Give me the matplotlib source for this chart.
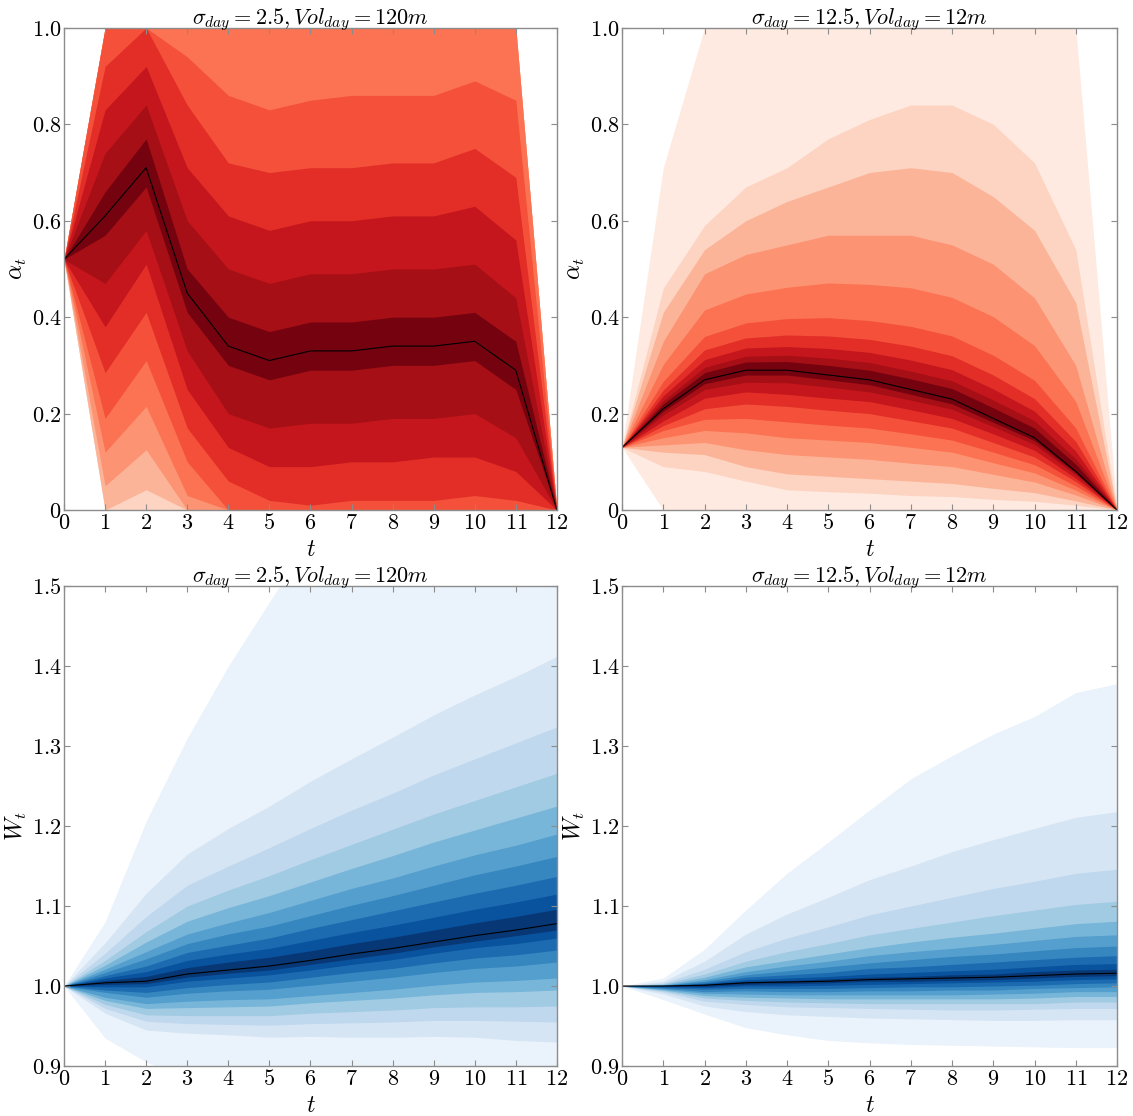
import numpy as np
import matplotlib
matplotlib.use('Agg')
import matplotlib.pyplot as plt

plt.rcParams['mathtext.fontset'] = 'cm'
plt.rcParams['font.size'] = 15

t = np.arange(13)
xticklabels = [str(i) for i in range(13)]
alpha_ticks = [0, 0.2, 0.4, 0.6, 0.8, 1.0]
alpha_ticklabels = ['0', '0.2', '0.4', '0.6', '0.8', '1.0']
w_ticks = [0.9, 1.0, 1.1, 1.2, 1.3, 1.4, 1.5]
w_ticklabels = ['0.9', '1.0', '1.1', '1.2', '1.3', '1.4', '1.5']

titles = [r'$\sigma_{day}=2.5, Vol_{day}=120m$', r'$\sigma_{day}=12.5, Vol_{day}=12m$']

# --- alpha_t, sigma 2.5 (bands listed from the median outwards) ---
tl_median = [.52, .61, .71, .45, .34, .31, .33, .33, .34, .34, .35, .29, 0]
tl_upper = [
    [.52, .66, .77, .50, .40, .37, .39, .39, .40, .40, .41, .35, 0],
    [.52, .74, .84, .60, .50, .47, .49, .49, .50, .50, .51, .44, 0],
    [.52, .83, .92, .71, .61, .58, .60, .60, .61, .61, .63, .56, 0],
    [.52, .92, 1.0, .84, .72, .70, .71, .71, .72, .72, .75, .69, 0],
    [.52, 1.0, 1.0, .94, .86, .83, .85, .86, .86, .86, .89, .85, 0],
    [.52, 1.0, 1.0, 1.0, 1.0, 1.0, 1.0, 1.0, 1.0, 1.0, 1.0, 1.0, 0],
    [.52, 1.0, 1.0, 1.0, 1.0, 1.0, 1.0, 1.0, 1.0, 1.0, 1.0, 1.0, 0],
    [.52, 1.0, 1.0, 1.0, 1.0, 1.0, 1.0, 1.0, 1.0, 1.0, 1.0, 1.0, 0],
    [.52, 1.0, 1.0, 1.0, 1.0, 1.0, 1.0, 1.0, 1.0, 1.0, 1.0, 1.0, 0],
    [.52, 1.0, 1.0, 1.0, 1.0, 1.0, 1.0, 1.0, 1.0, 1.0, 1.0, 1.0, 0],
]
tl_lower = [
    [.52, .57, .67, .41, .30, .27, .29, .29, .30, .30, .31, .25, 0],
    [.52, .47, .58, .33, .20, .17, .18, .18, .19, .19, .20, .15, 0],
    [.52, .38, .51, .25, .13, .09, .09, .10, .10, .11, .11, .08, 0],
    [.52, .285, .41, .17, .06, .02, .01, .02, .02, .02, .03, .02, 0],
    [.52, .19, .31, .10, 0, 0, 0, 0, 0, 0, 0, 0, 0],
    [.52, .12, .215, .03, 0, 0, 0, 0, 0, 0, 0, 0, 0],
    [.52, .05, .125, 0, 0, 0, 0, 0, 0, 0, 0, 0, 0],
    [.52, 0, .042, 0, 0, 0, 0, 0, 0, 0, 0, 0, 0],
    [.52, 0, 0, 0, 0, 0, 0, 0, 0, 0, 0, 0, 0],
    [.52, 0, 0, 0, 0, 0, 0, 0, 0, 0, 0, 0, 0],
]

# --- alpha_t, sigma 12.5 ---
tr_median = [.13, .21, .27, .29, .29, .28, .27, .25, .23, .19, .15, .08, 0]
tr_upper = [
    [.13, .22, .285, .307, .308, .30, .29, .272, .252, .212, .17, .095, 0],
    [.13, .227, .296, .319, .321, .315, .306, .288, .268, .228, .185, .106, 0],
    [.13, .237, .312, .336, .339, .335, .327, .311, .291, .251, .205, .122, 0],
    [.13, .249, .332, .357, .363, .361, .354, .34, .32, .28, .231, .142, 0],
    [.13, .267, .36, .388, .397, .399, .393, .381, .361, .321, .269, .17, 0],
    [.13, .302, .415, .448, .462, .471, .468, .461, .441, .401, .341, .225, 0],
    [.13, .35, .49, .53, .55, .57, .57, .57, .55, .51, .44, .30, 0],
    [.13, .41, .54, .60, .64, .67, .70, .71, .70, .65, .58, .43, 0],
    [.13, .46, .59, .67, .71, .77, .81, .84, .84, .80, .72, .54, 0],
    [.13, .71, 1.0, 1.0, 1.0, 1.0, 1.0, 1.0, 1.0, 1.0, 1.0, 1.0, 0],
]
tr_lower = [
    [.13, .205, .262, .28, .28, .27, .26, .24, .22, .182, .144, .077, 0],
    [.13, .197, .25, .265, .264, .255, .245, .228, .209, .173, .136, .073, 0],
    [.13, .185, .232, .245, .24, .232, .225, .208, .19, .158, .124, .066, 0],
    [.13, .175, .21, .22, .215, .207, .20, .185, .17, .14, .11, .059, 0],
    [.13, .165, .188, .19, .183, .176, .17, .158, .145, .12, .094, .05, 0],
    [.13, .15, .165, .16, .15, .145, .14, .13, .12, .098, .077, .041, 0],
    [.13, .135, .14, .125, .115, .11, .105, .097, .09, .074, .058, .031, 0],
    [.13, .12, .115, .09, .075, .07, .065, .06, .055, .045, .036, .019, 0],
    [.13, .09, .08, .06, .042, .038, .035, .03, .028, .022, .018, .01, 0],
    [.13, 0, 0, 0, 0, 0, 0, 0, 0, 0, 0, 0, 0],
]

# --- W_t, sigma 2.5 ---
bl_median = [1.0, 1.004, 1.006, 1.015, 1.02, 1.025, 1.032, 1.04, 1.047, 1.055, 1.063, 1.07, 1.078]
bl_upper = [
    [1.0, 1.007, 1.012, 1.023, 1.030, 1.036, 1.044, 1.053, 1.061, 1.070, 1.079, 1.087, 1.096],
    [1.0, 1.010, 1.018, 1.032, 1.040, 1.047, 1.057, 1.067, 1.076, 1.086, 1.096, 1.105, 1.115],
    [1.0, 1.013, 1.025, 1.042, 1.051, 1.060, 1.072, 1.083, 1.094, 1.105, 1.116, 1.126, 1.137],
    [1.0, 1.017, 1.034, 1.053, 1.065, 1.075, 1.088, 1.101, 1.113, 1.126, 1.139, 1.150, 1.162],
    [1.0, 1.021, 1.043, 1.065, 1.079, 1.092, 1.107, 1.122, 1.135, 1.150, 1.164, 1.176, 1.190],
    [1.0, 1.026, 1.055, 1.081, 1.098, 1.113, 1.130, 1.147, 1.163, 1.180, 1.195, 1.210, 1.225],
    [1.0, 1.032, 1.068, 1.100, 1.120, 1.138, 1.158, 1.177, 1.196, 1.215, 1.232, 1.249, 1.266],
    [1.0, 1.041, 1.087, 1.126, 1.150, 1.173, 1.197, 1.220, 1.241, 1.264, 1.284, 1.304, 1.324],
    [1.0, 1.054, 1.116, 1.165, 1.197, 1.225, 1.256, 1.284, 1.311, 1.339, 1.364, 1.387, 1.412],
    [1.0, 1.08, 1.206, 1.31, 1.40, 1.48, 1.56, 1.63, 1.69, 1.75, 1.80, 1.85, 1.90],
]
bl_lower = [
    [1.0, 1.002, 1.003, 1.011, 1.016, 1.020, 1.027, 1.034, 1.041, 1.049, 1.056, 1.063, 1.070],
    [1.0, .999, .999, 1.006, 1.010, 1.014, 1.020, 1.027, 1.033, 1.041, 1.048, 1.053, 1.060],
    [1.0, .995, .992, .998, 1.002, 1.005, 1.011, 1.017, 1.022, 1.029, 1.035, 1.039, 1.045],
    [1.0, .992, .986, .991, .994, .996, 1.001, 1.006, 1.011, 1.017, 1.022, 1.025, 1.030],
    [1.0, .986, .978, .981, .983, .984, .988, .992, .996, 1.001, 1.005, 1.007, 1.010],
    [1.0, .982, .972, .973, .974, .975, .979, .982, .985, .989, .992, .993, .995],
    [1.0, .977, .964, .963, .963, .963, .966, .968, .970, .973, .974, .974, .975],
    [1.0, .972, .956, .953, .952, .951, .953, .954, .955, .957, .957, .956, .955],
    [1.0, .966, .945, .941, .939, .936, .937, .936, .936, .937, .936, .932, .930],
    [1.0, .935, .905, .885, .875, .87, .865, .86, .86, .86, .86, .86, .86],
]

# --- W_t, sigma 12.5 ---
br_median = [1.0, 1.0, 1.001, 1.004, 1.005, 1.006, 1.008, 1.009, 1.010, 1.011, 1.013, 1.015, 1.016]
br_upper = [
    [1.0, 1.000, 1.002, 1.006, 1.007, 1.009, 1.011, 1.012, 1.014, 1.015, 1.018, 1.020, 1.021],
    [1.0, 1.000, 1.003, 1.008, 1.010, 1.012, 1.015, 1.017, 1.019, 1.021, 1.024, 1.027, 1.028],
    [1.0, 1.001, 1.004, 1.011, 1.014, 1.017, 1.022, 1.024, 1.027, 1.030, 1.033, 1.036, 1.038],
    [1.0, 1.001, 1.006, 1.014, 1.019, 1.024, 1.029, 1.033, 1.037, 1.040, 1.044, 1.048, 1.050],
    [1.0, 1.001, 1.008, 1.018, 1.025, 1.031, 1.038, 1.043, 1.047, 1.052, 1.057, 1.062, 1.064],
    [1.0, 1.002, 1.011, 1.024, 1.032, 1.040, 1.048, 1.055, 1.061, 1.066, 1.072, 1.078, 1.081],
    [1.0, 1.003, 1.015, 1.031, 1.043, 1.053, 1.064, 1.072, 1.080, 1.088, 1.095, 1.102, 1.106],
    [1.0, 1.004, 1.021, 1.043, 1.060, 1.074, 1.089, 1.100, 1.111, 1.122, 1.131, 1.141, 1.146],
    [1.0, 1.006, 1.031, 1.065, 1.090, 1.111, 1.133, 1.150, 1.168, 1.183, 1.197, 1.211, 1.218],
    [1.0, 1.01, 1.046, 1.095, 1.141, 1.18, 1.22, 1.259, 1.288, 1.315, 1.337, 1.367, 1.378],
]
br_lower = [
    [1.0, .9995, .9996, 1.002, 1.003, 1.004, 1.006, 1.006, 1.007, 1.008, 1.010, 1.012, 1.013],
    [1.0, .999, .998, 1.000, 1.000, 1.001, 1.002, 1.003, 1.004, 1.005, 1.006, 1.008, 1.009],
    [1.0, .998, .996, .997, .997, .997, .998, .999, .999, 1.000, 1.001, 1.003, 1.004],
    [1.0, .997, .993, .994, .993, .993, .994, .994, .995, .995, .997, .998, .999],
    [1.0, .996, .991, .990, .989, .989, .989, .989, .989, .990, .991, .993, .993],
    [1.0, .995, .988, .986, .985, .984, .984, .984, .984, .984, .985, .987, .987],
    [1.0, .994, .985, .982, .980, .979, .978, .978, .978, .978, .978, .980, .980],
    [1.0, .9925, .981, .977, .974, .973, .972, .971, .970, .970, .971, .972, .972],
    [1.0, .990, .975, .968, .964, .962, .960, .959, .958, .957, .957, .958, .958],
    [1.0, .983, .965, .948, .939, .932, .929, .927, .926, .925, .924, .923, .923],
]

levels = np.linspace(0.97, 0.07, 10)
spine_col = '#8c8c8c'

fig = plt.figure(figsize=(11.33, 11.16), dpi=100)
boxes = [
    [0.0565, 0.543, 0.435, 0.432],
    [0.549, 0.543, 0.4369, 0.432],
    [0.0565, 0.0448, 0.435, 0.430],
    [0.549, 0.0448, 0.4369, 0.430],
]
panels = [
    (tl_median, tl_upper, tl_lower, plt.cm.Reds, r'$\alpha_t$', 0),
    (tr_median, tr_upper, tr_lower, plt.cm.Reds, r'$\alpha_t$', 1),
    (bl_median, bl_upper, bl_lower, plt.cm.Blues, r'$W_t$', 0),
    (br_median, br_upper, br_lower, plt.cm.Blues, r'$W_t$', 1),
]

for i, (med, up, lo, cmap, ylab, ti) in enumerate(panels):
    ax = fig.add_axes(boxes[i])
    # outer band first, inner ones painted on top
    for k in range(len(up) - 1, -1, -1):
        ax.fill_between(t, lo[k], up[k], color=cmap(levels[k]), lw=0)
    ax.plot(t, med, 'k-', lw=0.8)

    ax.set_xlim(0, 12)
    ax.set_xticks(t)
    ax.set_xticklabels(['$%s$' % s for s in xticklabels])
    if i < 2:
        ax.set_ylim(0, 1)
        ax.set_yticks(alpha_ticks)
        ax.set_yticklabels(['$%s$' % s for s in alpha_ticklabels])
    else:
        ax.set_ylim(0.9, 1.5)
        ax.set_yticks(w_ticks)
        ax.set_yticklabels(['$%s$' % s for s in w_ticklabels])

    ax.set_title(titles[ti], fontsize=16, pad=3)
    ax.set_xlabel('$t$', fontsize=17, labelpad=3)
    ax.set_ylabel(ylab, fontsize=17, labelpad=2)
    ax.tick_params(direction='in', top=True, right=True, length=4,
                   color=spine_col, labelsize=16, pad=2)
    for sp in ax.spines.values():
        sp.set_color(spine_col)
        sp.set_linewidth(1.0)

plt.savefig('out.png', dpi=100)
